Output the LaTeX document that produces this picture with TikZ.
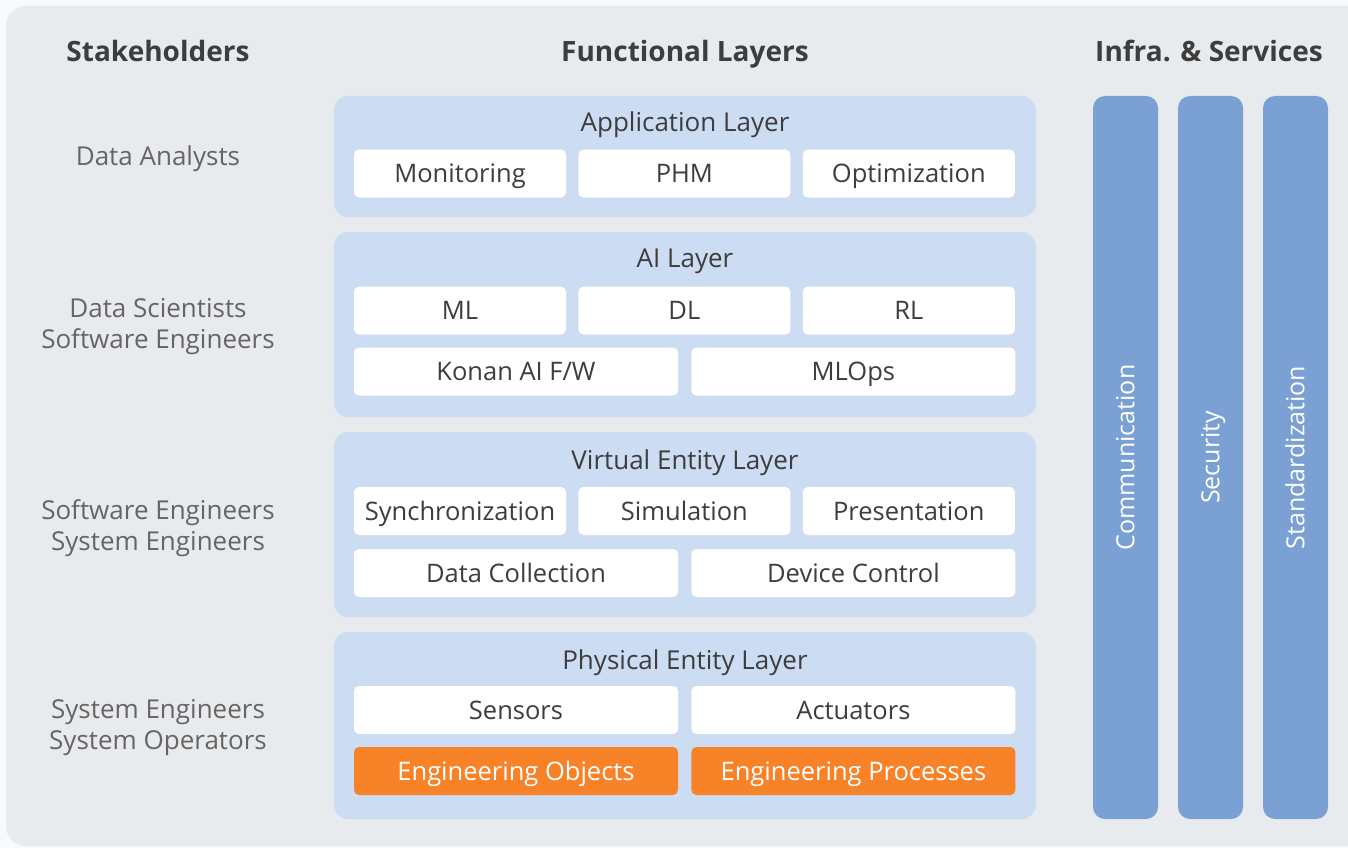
\documentclass[tikz,border=0pt]{standalone}
\usepackage{fontspec}
\setmainfont{Open Sans}
\usetikzlibrary{positioning}
\definecolor{pagewhite}{HTML}{F8F9FB}
\definecolor{panelgray}{HTML}{E8EBEE}
\definecolor{layerblue}{HTML}{CCDCF3}
\definecolor{barblue}{HTML}{7BA1D4}
\definecolor{engorange}{HTML}{F88227}
\definecolor{textdark}{HTML}{3D3D3D}
\definecolor{textgray}{HTML}{686464}

\begin{document}
\begin{tikzpicture}[x=1pt, y=-1pt]
\tikzstyle{head}=[font=\bfseries\fontsize{28}{32}\selectfont, text=textdark, text height=20pt, text depth=0pt, inner sep=0pt]
\tikzstyle{who}=[align=center, font=\fontsize{26}{31}\selectfont, text=textgray]
\tikzstyle{layer}=[fill=layerblue, rounded corners=14pt, inner sep=0pt, minimum width=702pt]
\tikzstyle{ttl}=[font=\fontsize{26}{30}\selectfont, text=textdark, text height=18.5pt, text depth=0pt, inner sep=0pt]
\tikzstyle{item}=[fill=white, rounded corners=5pt, inner sep=0pt, minimum height=48pt, font=\fontsize{25.5}{30}\selectfont, text=textdark, text height=18pt, text depth=0pt]
\tikzstyle{small}=[item, minimum width=212pt, node distance=12pt]
\tikzstyle{wide}=[item, minimum width=324pt, node distance=13pt]
\tikzstyle{eng}=[wide, fill=engorange, text=white]
\tikzstyle{bar}=[fill=barblue, rounded corners=12pt, inner sep=0pt, minimum width=65pt, minimum height=723pt]
\tikzstyle{barlbl}=[rotate=90, font=\fontsize{25}{30}\selectfont, text=white, text height=17.8pt, text depth=0pt, inner sep=0pt]

\useasboundingbox (0,0) rectangle (1348,848);
\fill[pagewhite] (0,0) rectangle (1348,848);
\fill[panelgray, rounded corners=20pt] (6,6) rectangle (1390,846);

% headings
\node[head] (hstake) at (158,52) {Stakeholders};
\node[head] (hfunc) at (685,52) {Functional Layers};
\node[head] (hinfra) at (1209,52) {Infra. \& Services};

% stakeholders
\node[who] (sa) at (158,159) {Data Analysts};
\node[who] (sb) at (158,327) {Data Scientists\\Software Engineers};
\node[who] (sc) at (158,528) {Software Engineers\\System Engineers};
\node[who] (sd) at (158,728) {System Engineers\\System Operators};

% application layer
\node[layer, minimum height=121pt] (app) at (685,156.5) {};
\node[ttl] (appt) at (685,122) {Application Layer};
\node[small] (mon) at (460,173.5) {Monitoring};
\node[small, right=of mon] (phm) {PHM};
\node[small, right=of phm] (opt) {Optimization};

% ai layer
\node[layer, minimum height=185pt] (ai) at (685,324.5) {};
\node[ttl] (ait) at (685,258) {AI Layer};
\node[small] (ml) at (460,310.5) {ML};
\node[small, right=of ml] (dl) {DL};
\node[small, right=of dl] (rl) {RL};
\node[wide] (konan) at (516,371.5) {Konan AI F/W};
\node[wide, right=of konan] (mlops) {MLOps};

% virtual entity layer
\node[layer, minimum height=185pt] (ve) at (685,524.5) {};
\node[ttl] (vet) at (685,460) {Virtual Entity Layer};
\node[small] (sync) at (460,511) {Synchronization};
\node[small, right=of sync] (sim) {Simulation};
\node[small, right=of sim] (pres) {Presentation};
\node[wide] (dcol) at (516,573) {Data Collection};
\node[wide, right=of dcol] (dctl) {Device Control};

% physical entity layer
\node[layer, minimum height=187pt] (pe) at (685,725.5) {};
\node[ttl] (pet) at (685,660) {Physical Entity Layer};
\node[wide] (sens) at (516,710) {Sensors};
\node[wide, right=of sens] (act) {Actuators};
\node[eng] (eobj) at (516,771) {Engineering Objects};
\node[eng, right=of eobj] (eproc) {Engineering Processes};

% infra bars
\node[bar] (comm) at (1125.5,457.5) {};
\node[bar] (sec) at (1210.5,457.5) {};
\node[bar] (std) at (1295.5,457.5) {};
\node[barlbl] at (comm) {Communication};
\node[barlbl] at (sec) {Security};
\node[barlbl] at (std) {Standardization};
\end{tikzpicture}
\end{document}
